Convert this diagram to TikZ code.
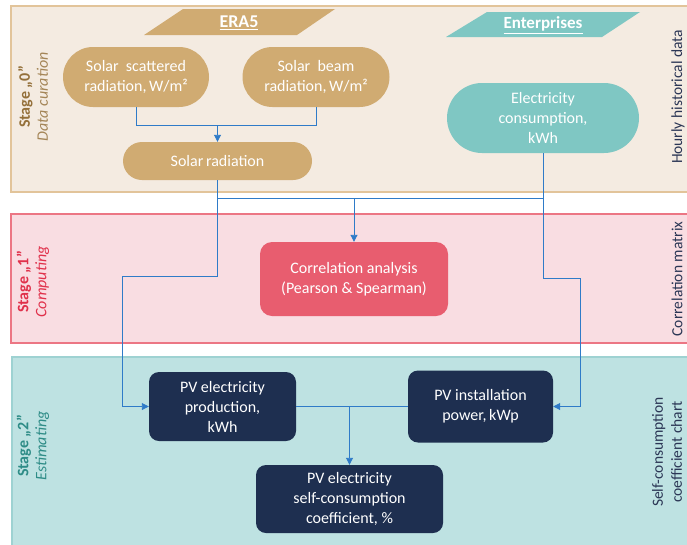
\documentclass[tikz,border=0pt]{standalone}
\usepackage{fontspec}
\setmainfont{Carlito}
\usetikzlibrary{shapes.misc,arrows.meta}
\definecolor{panelA}{HTML}{F4EBE1}
\definecolor{panelAb}{HTML}{E2C49A}
\definecolor{tan}{HTML}{D0AB72}
\definecolor{teal}{HTML}{7FC7C3}
\definecolor{panelB}{HTML}{F9DDE2}
\definecolor{panelBb}{HTML}{EC7684}
\definecolor{corrc}{HTML}{E85D6F}
\definecolor{panelC}{HTML}{BEE2E2}
\definecolor{panelCb}{HTML}{9ED2D2}
\definecolor{navy}{HTML}{1E2F50}
\definecolor{arrc}{HTML}{2F7BC8}
\definecolor{labA}{HTML}{94703A}
\definecolor{labB}{HTML}{E0314B}
\definecolor{labC}{HTML}{2E8C87}
\definecolor{sidec}{HTML}{2B3655}
\begin{document}
\begin{tikzpicture}[x=1pt,y=-1pt,
  txt/.style={text=white,font=\fontsize{16}{20}\selectfont,align=center,inner sep=0pt},
  pill/.style={txt,rounded rectangle,fill=#1},
  boxn/.style={txt,rectangle,rounded corners=12pt,fill=#1},
  line/.style={draw=arrc,line width=0.9pt},
  arr/.style={line,-{Triangle[width=7pt,length=7pt]}},
  sidelab/.style={rotate=90,text=sidec,font=\fontsize{15.5}{19}\selectfont,align=center,inner sep=0pt},
  stagelab/.style={rotate=90,font=\fontsize{16}{18}\selectfont,align=center,inner sep=0pt}
]
\useasboundingbox (0,0) rectangle (687,544);
\clip (0,0) rectangle (687,544);
% panels
\draw[fill=panelA,draw=panelAb,line width=1.2pt] (11,6) rectangle (700,192);
\draw[fill=panelB,draw=panelBb,line width=1.2pt] (11,214) rectangle (700,343);
\draw[fill=panelC,draw=panelCb,line width=1.2pt] (12,357) rectangle (700,560);
% parallelograms
\fill[tan] (144,35) -- (183,9) -- (335,9) -- (297,35) -- cycle;
\node[text=white,font=\bfseries\fontsize{18}{20}\selectfont,inner sep=0pt] (era) at (239,23) {\underline{ERA5}};
\fill[teal] (446,37) -- (487,12) -- (640,12) -- (602,37) -- cycle;
\node[text=white,font=\bfseries\fontsize{17}{20}\selectfont,inner sep=0pt] (ent) at (543,25) {\underline{Enterprises}};
% nodes
\node[pill=tan,minimum width=146pt,minimum height=60pt] (sc) at (136,77) {Solar\ \ scattered\\radiation,\,W/m²};
\node[pill=tan,minimum width=147pt,minimum height=60pt] (sb) at (316,77) {Solar\ \ beam\\radiation,\,W/m²};
\node[pill=tan,minimum width=189pt,minimum height=38pt] (sr) at (217.5,161) {Solar\,radiation};
\node[pill=teal,minimum width=192pt,minimum height=70pt] (ec) at (543,118) {Electricity\\consumption,\\kWh};
\node[boxn=corrc,minimum width=188pt,minimum height=74pt] (corr) at (354,279) {Correlation analysis\\(Pearson \& Spearman)};
\node[boxn=navy,rounded corners=10pt,minimum width=147pt,minimum height=69pt] (pvp) at (222.5,406.5) {PV electricity\\production,\\kWh};
\node[boxn=navy,rounded corners=10pt,minimum width=145pt,minimum height=72pt] (pvi) at (480.5,406.5) {PV installation\\power,\,kWp};
\node[boxn=navy,rounded corners=10pt,minimum width=187pt,minimum height=68pt] (psc) at (349.5,499) {PV electricity\\self-consumption\\coefficient, \%};
% labels
\node[stagelab] (s0) at (33,97) {\textcolor{labA}{\bfseries Stage „0”}\\\textcolor{labA!85!white}{\itshape Data curation}};
\node[stagelab] (s1) at (33,282) {\textcolor{labB}{\bfseries Stage „1”}\\\textcolor{labB}{\itshape Computing}};
\node[stagelab] (s2) at (33,446) {\textcolor{labC}{\bfseries Stage „2”}\\\textcolor{labC}{\itshape Estimating}};
\node[sidelab] (r0) at (678,97) {Hourly historical data};
\node[sidelab] (r1) at (677,279) {Correlation matrix};
\node[sidelab] (r2) at (667,452) {Self-consumption\\coefficient chart};
% connectors
\coordinate (j1) at (sr.north |- 0,125);
\draw[line] (sc.south) |- (sb.south |- j1) -- (sb.south);
\draw[arr] (j1) -- (sr.north);
\coordinate (h1) at (sr.south |- 0,198);
\draw[arr] (sr.south) -- (sr.south |- 0,276) -- (122,276) |- (pvp.west);
\draw[line] (h1) -- (ec.south |- h1);
\draw[arr] (ec.south) -- (ec.south |- 0,278) -- (580,278) |- (pvi.east);
\draw[arr] (corr.north |- h1) -- (corr.north);
\draw[line] (pvp.east) -- (pvi.west);
\draw[arr] (psc.north |- pvp.east) -- (psc.north);
\end{tikzpicture}
\end{document}
